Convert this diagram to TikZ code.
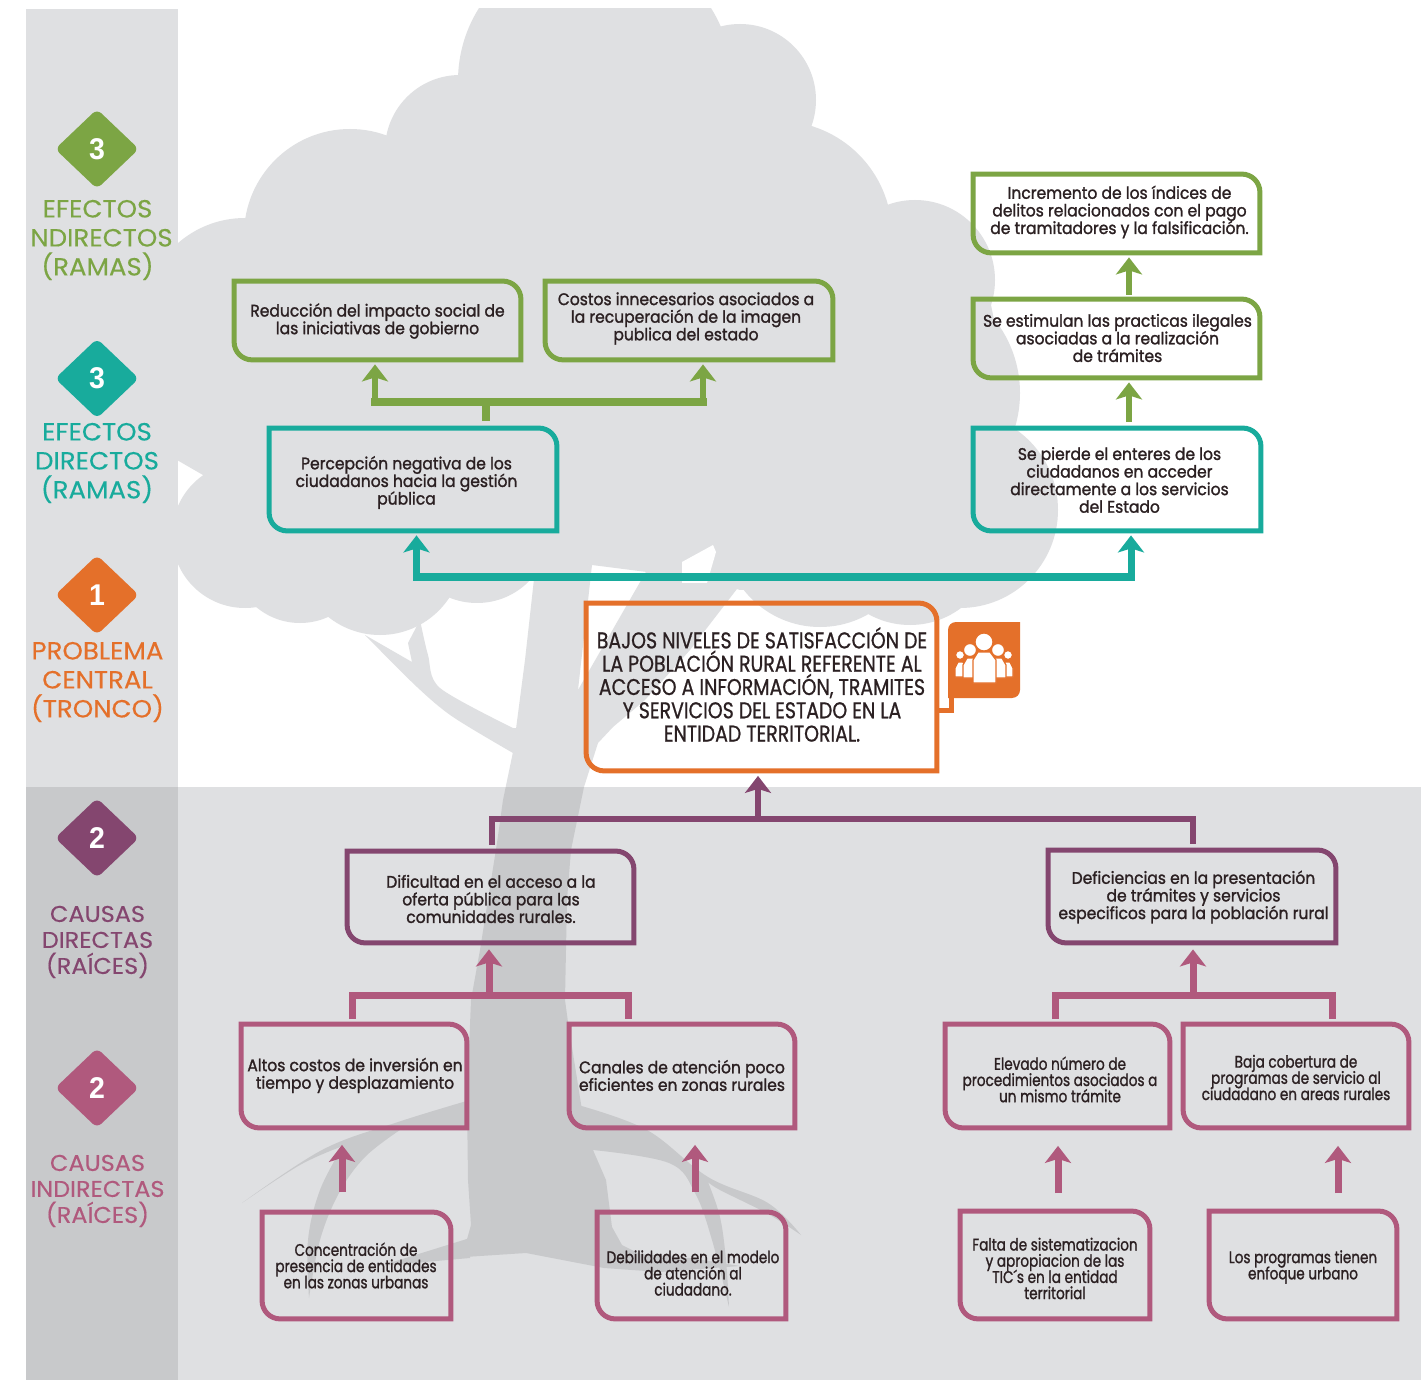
\documentclass[tikz,border=0pt]{standalone}
\usepackage{fontspec}
\usetikzlibrary{arrows.meta,shapes.geometric,calc}
\setmainfont{Poppins}
\newfontfamily\fa[FakeStretch=.925,FakeBold=1.4]{Poppins}
\newfontfamily\fb[FakeStretch=.81,FakeBold=1.2]{Poppins}
\newfontfamily\fc[FakeStretch=.83,FakeBold=.8]{Poppins}
\newfontfamily\fd[FakeStretch=1.05,FakeBold=.3]{Poppins}
\newfontfamily\fn[FakeStretch=.95]{Liberation Sans}
\definecolor{cgreen}{HTML}{7CA544}
\definecolor{cteal}{HTML}{18AB9C}
\definecolor{corange}{HTML}{E4702A}
\definecolor{cpurple}{HTML}{84466F}
\definecolor{cpink}{HTML}{B0597D}
\definecolor{clight}{HTML}{DFE0E2}
\definecolor{cdark}{HTML}{C8C9CB}
\definecolor{ctext}{HTML}{2B2022}
\newdimen\pxu \pxu=0.5pt
\newcommand{\TA}{\fa\fontsize{8.4}{8.8}\selectfont}
\newcommand{\TB}{\fb\fontsize{8.4}{8.1}\selectfont}
\newcommand{\TC}{\fc\fontsize{11.4}{11.65}\selectfont}
% name, x1,y1,x2,y2 (outer edges, px), colour, text dx, text dy (px), text
\newcommand{\bx}[9]{%
  \node[draw=none,inner sep=0pt,text=ctext,minimum width={(#4-#2-5)*0.5pt},minimum height={(#5-#3-5)*0.5pt}] (#1) at ({(#2+#4)/2},{(#3+#5)/2})
    {\raisebox{\dimexpr#8\pxu-2.75pt\relax}[0pt][0pt]{\makebox[0pt]{\kern#7\pxu\kern#7\pxu\parbox[c]{320pt}{\lineskiplimit=-30pt\relax\centering #9}}}};
  \draw[#6,line width=2.5pt,line join=miter] (#1.north west) -- ([xshift=-9pt]#1.north east) arc[start angle=90,end angle=0,radius=9pt] -- (#1.south east) -- ([xshift=9pt]#1.south west) arc[start angle=270,end angle=180,radius=9pt] -- cycle;
}
\newcommand{\treeshape}{%
  \fill (595,81) circle[radius=137];
  \fill (740,100) circle[radius=76];
  \fill (778,235) circle[radius=114];
  \fill (460,150) circle[radius=75];
  \fill (350,235) circle[radius=106];
  \fill (245,320) circle[radius=102];
  \fill (915,280) circle[radius=80];
  \fill (901,393) circle[radius=119];
  \fill (960,510) circle[radius=98];
  \fill (910,540) circle[radius=85];
  \fill (820,530) circle[radius=97];
  \fill (245,535) circle[radius=73];
  \fill (300,555) circle[radius=68];
  \fill (380,552) circle[radius=83];
  \fill (477,530) circle[radius=73];
  % crown interior
  \fill (177,300) -- (300,200) -- (450,100) -- (700,100) -- (800,150) -- (900,250) -- (990,300) -- (1010,400) -- (990,470) -- (950,520) -- (900,590) -- (740,590) -- (700,578) -- (647,572) -- (592,565) -- (520,580) -- (470,590) -- (380,600) -- (250,560) -- (203,475) -- (177,460) -- cycle;
  % trunk with right branch
  \fill (535,570) -- (525,660) -- (513,752) -- (503,800) -- (497,843) -- (480,950) -- (471,1000) -- (467,1100) -- (468,1180) -- (471,1225) -- (464,1250) -- (465,1257) -- (526,1253) -- (604,1268) -- (660,1272) -- (740,1266) -- (690,1258) -- (640,1254) -- (622,1245) -- (612,1227) -- (606,1180) -- (593,1150) -- (600,1120) -- (582,1110) -- (568,1022) -- (565,1000) -- (567,900) -- (571,850) -- (584,787) -- (598,743) -- (613,727) -- (645,700) -- (690,650) -- (740,585) -- (720,560) -- (647,570) -- (578,690) -- (592,565) -- cycle;
  % left branch and twig
  \fill plot[smooth,tension=.5] coordinates {(365,635) (417,687) (453,717) (513,753)} -- (520,728) -- plot[smooth,tension=.5] coordinates {(513,728) (440,688) (428,655) (420,620)} -- plot[smooth,tension=.5] coordinates {(408,643) (412,662)} -- cycle;
  % left roots
  \fill plot[smooth,tension=.6] coordinates {(242,1203) (322,1150) (395,1123) (470,1100)} -- (470,1130) -- plot[smooth,tension=.6] coordinates {(400,1130) (365,1157) (339,1193) (320,1240) (309,1298)} -- plot[smooth,tension=.6] coordinates {(309,1298) (308,1240) (320,1190) (343,1146)} -- plot[smooth,tension=.6] coordinates {(343,1146) (300,1165) (242,1203)} -- cycle;
  \fill (470,1238) -- (380,1266) -- (470,1258) -- cycle;
  % right roots
  \fill plot[smooth,tension=.6] coordinates {(578,1105) (647,1130) (708,1177) (768,1203) (801,1235)} -- plot[smooth,tension=.6] coordinates {(801,1235) (768,1214) (720,1190) (708,1182)} -- plot[smooth,tension=.6] coordinates {(708,1182) (720,1217) (726,1260) (729,1307)} -- plot[smooth,tension=.6] coordinates {(729,1307) (712,1240) (695,1193) (669,1163) (593,1150)} -- cycle;
}
\tikzset{
  lbl/.style={inner sep=0pt,align=center},
  dia/.style={diamond,fill=#1,rounded corners=3pt,inner sep=0pt,minimum width=42pt,minimum height=40pt,aspect=1.05,text=white,font=\fn\bfseries\fontsize{15}{15}\selectfont},
  garr/.style={cgreen,line width=3pt,-{Stealth[length=8.5pt,width=13pt,inset=2pt]}},
  tarr/.style={cteal,line width=3.5pt,-{Stealth[length=8.5pt,width=13pt,inset=2pt]}},
  parr/.style={cpurple,line width=3pt,-{Stealth[length=8.5pt,width=13pt,inset=2pt]}},
  rarr/.style={cpink,line width=3.5pt,-{Stealth[length=8.5pt,width=13pt,inset=2pt]}},
}
\begin{document}
\begin{tikzpicture}[x=0.5pt,y=-0.5pt]
\useasboundingbox (0,0) rectangle (1421,1380);
\fill[white] (0,0) rectangle (1421,1380);
\fill[clight] (26,9) rectangle (177.5,787);
\fill[cdark] (26,787) rectangle (177.5,1380);
\fill[clight] (177.5,787) rectangle (1421,1380);
\begin{scope}
  \clip (178,9) rectangle (1421,787);
  \begin{scope}[clight] \treeshape \end{scope}
  \fill[white] (682,562) -- (713,545) -- (716,552) -- (707,583) -- (682,583) -- cycle;
\end{scope}
\begin{scope}
  \clip (178,787) rectangle (1421,1380);
  \begin{scope}[cdark] \treeshape \end{scope}
\end{scope}
% side legend
\node[dia=cgreen] (d1) at (97,149) {3};
\node[dia=cteal] (d2) at (97,378.5) {3};
\node[dia=corange] (d3) at (97,595) {1};
\node[dia=cpurple] (d4) at (97,838) {2};
\node[dia=cpink] (d5) at (97,1088) {2};
\node[lbl,text=cgreen,font=\fd\fontsize{12.4}{14.5}\selectfont] (l1) at (97.5,240) {EFECTOS\\\hspace*{4pt}NDIRECTOS\\(RAMAS)};
\node[lbl,text=cteal,font=\fd\fontsize{12.4}{14.5}\selectfont] (l2) at (97,463) {EFECTOS\\DIRECTOS\\(RAMAS)};
\node[lbl,text=corange,font=\fd\fontsize{12.4}{14.5}\selectfont] (l3) at (97.5,682) {PROBLEMA\\CENTRAL\\(TRONCO)};
\node[lbl,text=cpurple,font=\fd\fontsize{11.4}{13}\selectfont] (l4) at (97.5,942) {CAUSAS\\DIRECTAS\\(RAÍCES)};
\node[lbl,text=cpink,font=\fd\fontsize{11.4}{13}\selectfont] (l5) at (97.5,1191) {CAUSAS\\INDIRECTAS\\(RAÍCES)};
% boxes
\bx{reduc}{232}{279}{523}{362}{cgreen}{0}{0}{\TA Reducción del impacto social de\\las iniciativas de gobierno}
\bx{costos}{543}{279}{835}{362}{cgreen}{-3}{2.5}{\TA Costos innecesarios asociados a\\la recuperación de la imagen\\publica del estado}
\bx{pneg}{267}{426}{559}{533}{cteal}{-6.5}{-2.5}{\TA Percepción negativa de los\\ciudadanos hacia la gestión\\pública}
\bx{incr}{971}{172}{1262}{255}{cgreen}{3}{2}{\TA Incremento de los índices de\\delitos relacionados con el pago\\de tramitadores y la falsificación.}
\bx{estim}{971}{297}{1262}{380}{cgreen}{1}{1}{\TA Se estimulan las practicas ilegales\\asociadas a la realización\\de trámites}
\bx{pierde}{971}{426}{1263}{533}{cteal}{2.5}{0}{\TA Se pierde el enteres de los\\ciudadanos en acceder\\directamente a los servicios\\del Estado}
\bx{prob}{584}{601}{939}{773}{corange}{0.5}{3}{\TC BAJOS NIVELES DE SATISFACCIÓN DE\\LA POBLACIÓN RURAL REFERENTE AL\\ACCESO A INFORMACIÓN, TRAMITES\\Y SERVICIOS DEL ESTADO EN LA\\ENTIDAD TERRITORIAL.}
\bx{dific}{345}{849}{636}{945}{cpurple}{0.5}{-1.5}{\TA Dificultad en el acceso a la\\oferta pública para las\\comunidades rurales.}
\bx{defic}{1046}{848}{1338}{945}{cpurple}{1.5}{0}{\TA Deficiencias en la presentación\\de trámites y servicios\\especificos para la población rural}
\bx{altos}{239}{1022}{469}{1130}{cpink}{1}{1}{\TA Altos costos de inversión en\\tiempo y desplazamiento}
\bx{canales}{567}{1022}{797}{1130}{cpink}{0}{1}{\TA Canales de atención poco\\eficientes en zonas rurales}
\bx{elevado}{943}{1022}{1172}{1130}{cpink}{2.5}{-3}{\TB Elevado número de\\procedimientos asociados a\\un mismo trámite}
\bx{baja}{1181}{1022}{1411}{1130}{cpink}{0}{-1}{\TB Baja cobertura de\\programas de servicio al\\ciudadano en areas rurales}
\bx{conc}{260}{1210}{453}{1321}{cpink}{-0.5}{0.5}{\TB Concentración de\\presencia de entidades\\en las zonas urbanas}
\bx{debil}{595}{1210}{788}{1321}{cpink}{1.5}{-7}{\TB Debilidades en el modelo\\de atención al\\ciudadano.}
\bx{falta}{958}{1209}{1152}{1321}{cpink}{0}{-3}{\TB Falta de sistematizacion\\y apropiacion de las\\TIC´s en la entidad\\territorial}
\bx{progr}{1207}{1209}{1399}{1321}{cpink}{0}{-1.5}{\TB Los programas tienen\\enfoque urbano}
% icon
\node[inner sep=0pt,minimum width=36pt,minimum height=37.5pt] (icon) at (984,660) {};
\fill[corange] (948,698) -- (948,630) arc[start angle=180,end angle=90,radius=4pt] -- (1020,622) -- (1020,690) arc[start angle=0,end angle=-90,radius=4pt] -- cycle;
\begin{scope}[white,draw=corange,line width=0.6pt]
  \filldraw (960,655) circle[radius=4.5]; \filldraw (1008,655) circle[radius=4.5];
  \filldraw (955,677) -- (955,668) -- (958,662) -- (963,662) -- (966,668) -- (966,677) -- cycle;
  \filldraw (1013,677) -- (1013,668) -- (1010,662) -- (1005,662) -- (1002,668) -- (1002,677) -- cycle;
  \filldraw (970,650) circle[radius=6.5]; \filldraw (998,650) circle[radius=6.5];
  \filldraw (963,678) -- (963,665) -- (967,658) -- (974,658) -- (980,665) -- (980,678) -- cycle;
  \filldraw (1006,678) -- (1006,665) -- (1002,658) -- (995,658) -- (988,665) -- (988,678) -- cycle;
  \filldraw (984,642) circle[radius=9];
  \filldraw (973,683) -- (973,660) -- (978,652) -- (990,652) -- (996,660) -- (996,683) -- cycle;
\end{scope}
\draw[corange,line width=2.5pt,line join=miter] ($(prob.east)+(2,23)$) -| ($(icon.south)+(-32.5,-2)$);
% connectors
\coordinate (jg) at (486,402);
\coordinate (jt) at (760,577);
\coordinate (jp) at (758,819);
\coordinate (jl) at (489,995);
\coordinate (jr) at (1193,995);
\draw[cgreen,line width=4pt] ($(pneg.north)+(73,-7)$) -- (jg);
\draw[garr] ($(jg-|reduc.south)+(-2.5,0)$) -- ($(reduc.south)+(-2.5,4.5)$);
\draw[garr] ($(jg-|costos.south)+(14,0)$) -- ($(costos.south)+(14,4.5)$);
\draw[cgreen,line width=4pt,line cap=rect] ($(jg-|reduc.south)+(-2.5,0)$) -- ($(jg-|costos.south)+(14,0)$);
\draw[garr] ($(estim.north)+(12.5,-4.5)$) -- ($(incr.south)+(12.5,4.5)$);
\draw[garr] ($(pierde.north)+(12,-6)$) -- ($(estim.south)+(12.5,4.5)$);
\draw[tarr] ($(jt-|pneg.south)+(3.5,0)$) -- ($(pneg.south)+(3.5,4.5)$);
\draw[tarr] ($(jt-|pierde.south)+(14,0)$) -- ($(pierde.south)+(14,4.5)$);
\draw[cteal,line width=4pt,line cap=rect] ($(jt-|pneg.south)+(3.5,0)$) -- ($(jt-|pierde.south)+(14,0)$);
\draw[parr] (jp) -- ($(prob.south)+(-3.5,5)$);
\draw[cpurple,line width=3pt,line join=miter] ($(dific.north)+(1.5,-6)$) |- (jp) -| ($(defic.north)+(1,-6)$);
\draw[rarr] (jl) -- ($(dific.south)+(-1.5,6.5)$);
\draw[cpink,line width=3.5pt,line join=miter] ($(altos.north)+(-2,-5)$) |- (jl) -| ($(canales.north)+(-54,-5)$);
\draw[rarr] (jr) -- ($(defic.south)+(1,6.5)$);
\draw[cpink,line width=3.5pt,line join=miter] ($(elevado.north)+(-2.5,-5)$) |- (jr) -| ($(baja.north)+(36,-5)$);
\draw[rarr] ($(conc.north)+(-14.5,-20)$) -- ($(altos.south)+(-12,17)$);
\draw[rarr] ($(debil.north)+(3.5,-20)$) -- ($(canales.south)+(13,17)$);
\draw[rarr] ($(falta.north)+(3,-18)$) -- ($(elevado.south)+(0.5,18)$);
\draw[rarr] ($(progr.north)+(35,-18)$) -- ($(baja.south)+(42,18)$);
\end{tikzpicture}
\end{document}
